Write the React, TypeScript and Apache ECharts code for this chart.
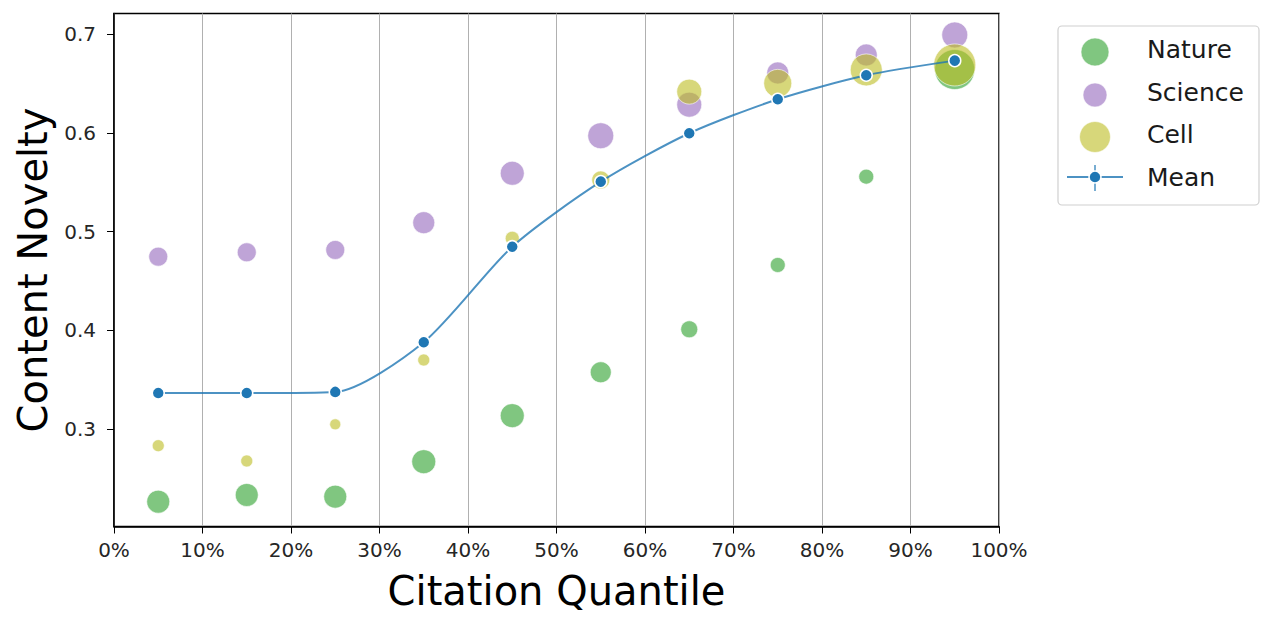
import React, { useEffect, useRef } from 'react';
import * as echarts from 'echarts';

// Citation quantile bin centres (%)
const quantiles = [5, 15, 25, 35, 45, 55, 65, 75, 85, 95];

const natureValues = [0.2266, 0.2334, 0.2317, 0.2671, 0.3137, 0.3576, 0.4011, 0.4662, 0.5556, 0.664];
const natureSizes = [23, 23, 23, 24, 24, 21, 17, 15, 15, 40];

const scienceValues = [0.4746, 0.479, 0.4814, 0.509, 0.559, 0.597, 0.6284, 0.6605, 0.6787, 0.699];
const scienceSizes = [19, 19, 19, 22, 24, 26, 25, 22, 22, 26];

const cellValues = [0.2833, 0.2678, 0.3049, 0.37, 0.4932, 0.5522, 0.6416, 0.65, 0.6636, 0.6686];
const cellSizes = [12, 12, 11, 12, 14, 18, 25, 28, 32, 42];

const meanValues = [0.3366, 0.3366, 0.3377, 0.388, 0.4847, 0.5505, 0.5995, 0.6339, 0.6582, 0.673];

const yTicks = [0.3, 0.4, 0.5, 0.6, 0.7];
const legendNames = ['Nature', 'Science', 'Cell', 'Mean'];

const FONT = 'DejaVu Sans';
const GREEN = '#2ca02c';
const PURPLE = '#9467bd';
const OLIVE = '#bcbd22';
const BLUE = '#1f77b4';

const scatterSeries = (name: string, vals: number[], sizes: number[], color: string) => ({
  name,
  type: 'scatter',
  data: quantiles.map((q, i) => [q, vals[i], sizes[i]]),
  symbol: 'circle',
  symbolSize: (v: number[]) => v[2],
  itemStyle: { color, opacity: 0.6, borderColor: '#ffffff', borderWidth: 1 },
  z: 2,
});

export default function App() {
  const ref = useRef<HTMLDivElement>(null);
  useEffect(() => {
    if (!ref.current) return;
    const chart = echarts.init(ref.current, undefined, { renderer: 'svg' });
    const legendText = (i: number, y: number) => ({
      type: 'text',
      left: 1147,
      top: y - 15,
      style: { text: legendNames[i], fontSize: 25, fontFamily: FONT, fill: '#1a1a1a' },
      z: 101,
    });
    chart.setOption({
      animation: false,
      backgroundColor: '#ffffff',
      grid: {
        left: 114,
        top: 13.5,
        right: 272,
        bottom: 93.5,
        show: true,
        borderColor: '#000000',
        borderWidth: 1.5,
      },
      xAxis: {
        type: 'value',
        min: 0,
        max: 100,
        interval: 10,
        name: 'Citation Quantile',
        nameLocation: 'middle',
        nameGap: 44,
        nameTextStyle: { fontSize: 40, fontFamily: FONT, color: '#000' },
        axisLine: { show: true, onZero: false, lineStyle: { color: '#000', width: 1.5 } },
        axisTick: { show: true, inside: false, length: 7, lineStyle: { color: '#000', width: 1 } },
        axisLabel: {
          formatter: '{value}%',
          fontSize: 20,
          fontFamily: FONT,
          color: '#262626',
          margin: 13,
        },
        splitLine: { show: true, lineStyle: { color: '#b0b0b0', width: 1 } },
      },
      yAxis: {
        type: 'value',
        min: 0.2015,
        max: 0.7207,
        name: 'Content Novelty',
        nameLocation: 'middle',
        nameGap: 61,
        nameTextStyle: { fontSize: 40, fontFamily: FONT, color: '#000' },
        axisLine: { show: true, onZero: false, lineStyle: { color: '#000', width: 1.5 } },
        axisTick: {
          show: true,
          inside: false,
          length: 7,
          customValues: yTicks,
          lineStyle: { color: '#000', width: 1 },
        },
        axisLabel: {
          customValues: yTicks,
          formatter: (v: number) => v.toFixed(1),
          fontSize: 20,
          fontFamily: FONT,
          color: '#262626',
          margin: 18,
        },
        splitLine: { show: false },
      },
      series: [
        scatterSeries('Nature', natureValues, natureSizes, GREEN),
        scatterSeries('Science', scienceValues, scienceSizes, PURPLE),
        scatterSeries('Cell', cellValues, cellSizes, OLIVE),
        {
          name: 'Mean',
          type: 'line',
          data: quantiles.map((q, i) => [q, meanValues[i]]),
          smooth: 0.25,
          symbol: 'circle',
          symbolSize: 12,
          showSymbol: true,
          lineStyle: { color: BLUE, width: 2, opacity: 0.8 },
          itemStyle: { color: BLUE, borderColor: '#ffffff', borderWidth: 1.5 },
          z: 5,
        },
      ],
      graphic: [
        {
          type: 'rect',
          shape: { x: 1058, y: 26, width: 201, height: 179, r: 4 },
          style: { fill: '#ffffff', stroke: '#d0d0d0', lineWidth: 1.2 },
          z: 100,
        },
        {
          type: 'circle',
          shape: { cx: 1095, cy: 52, r: 14 },
          style: { fill: GREEN, opacity: 0.6, stroke: '#fff', lineWidth: 1 },
          z: 101,
        },
        {
          type: 'circle',
          shape: { cx: 1095, cy: 95, r: 12 },
          style: { fill: PURPLE, opacity: 0.6, stroke: '#fff', lineWidth: 1 },
          z: 101,
        },
        {
          type: 'circle',
          shape: { cx: 1095, cy: 137, r: 15.5 },
          style: { fill: OLIVE, opacity: 0.6, stroke: '#fff', lineWidth: 1 },
          z: 101,
        },
        {
          type: 'line',
          shape: { x1: 1067, y1: 177, x2: 1123, y2: 177 },
          style: { stroke: BLUE, lineWidth: 2, opacity: 0.8 },
          z: 101,
        },
        {
          type: 'line',
          shape: { x1: 1095, y1: 165, x2: 1095, y2: 191 },
          style: { stroke: BLUE, lineWidth: 1.5, opacity: 0.8 },
          z: 101,
        },
        {
          type: 'circle',
          shape: { cx: 1095, cy: 177, r: 6 },
          style: { fill: BLUE, stroke: '#fff', lineWidth: 1.5 },
          z: 102,
        },
        legendText(0, 52),
        legendText(1, 95),
        legendText(2, 137),
        legendText(3, 180),
      ],
    });
    return () => chart.dispose();
  }, []);
  return (
    <div
      ref={ref}
      style={{ position: 'fixed', left: 0, top: 0, width: 1271, height: 620, background: '#fff' }}
    />
  );
}
